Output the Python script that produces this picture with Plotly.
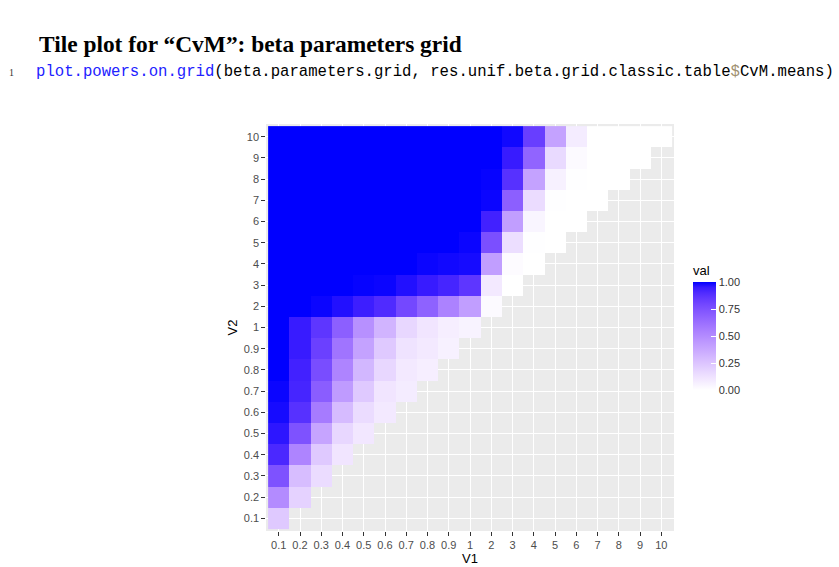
import plotly.graph_objects as go

# ---------------- data ----------------
categories = ["0.1", "0.2", "0.3", "0.4", "0.5", "0.6", "0.7", "0.8", "0.9", "1",
              "2", "3", "4", "5", "6", "7", "8", "9", "10"]

# power values, one list per V2 row (V1 from 0.1 up to V2)
v2_0_1 = [0.23]
v2_0_2 = [0.50, 0.19]
v2_0_3 = [0.75, 0.28, 0.15]
v2_0_4 = [0.91, 0.53, 0.23, 0.11]
v2_0_5 = [0.96, 0.75, 0.39, 0.17, 0.10]
v2_0_6 = [0.98, 0.88, 0.57, 0.29, 0.15, 0.09]
v2_0_7 = [0.99, 0.92, 0.70, 0.43, 0.23, 0.11, 0.08]
v2_0_8 = [1.00, 0.93, 0.77, 0.53, 0.31, 0.17, 0.09, 0.07]
v2_0_9 = [1.00, 0.95, 0.82, 0.60, 0.40, 0.23, 0.12, 0.09, 0.06]
v2_1 = [1.00, 0.95, 0.86, 0.69, 0.48, 0.32, 0.17, 0.11, 0.07, 0.05]
v2_2 = [1.00, 1.00, 0.99, 0.97, 0.94, 0.90, 0.79, 0.68, 0.54, 0.42, 0.02]
v2_3 = [1.00, 1.00, 1.00, 1.00, 0.995, 0.99, 0.97, 0.95, 0.92, 0.86, 0.09, 0.00]
v2_4 = [1.00, 1.00, 1.00, 1.00, 1.00, 1.00, 1.00, 0.99, 0.985, 0.98, 0.42, 0.015, 0.00]
v2_5 = [1.00, 1.00, 1.00, 1.00, 1.00, 1.00, 1.00, 1.00, 1.00, 0.99, 0.76, 0.14, 0.005, 0.00]
v2_6 = [1.00, 1.00, 1.00, 1.00, 1.00, 1.00, 1.00, 1.00, 1.00, 1.00, 0.93, 0.42, 0.04, 0.00, 0.00]
v2_7 = [1.00, 1.00, 1.00, 1.00, 1.00, 1.00, 1.00, 1.00, 1.00, 1.00, 0.99, 0.69, 0.15, 0.005, 0.00, 0.00]
v2_8 = [1.00, 1.00, 1.00, 1.00, 1.00, 1.00, 1.00, 1.00, 1.00, 1.00, 0.995, 0.88, 0.40, 0.06, 0.005, 0.00, 0.00]
v2_9 = [1.00, 1.00, 1.00, 1.00, 1.00, 1.00, 1.00, 1.00, 1.00, 1.00, 1.00, 0.95, 0.67, 0.16, 0.02, 0.00, 0.00, 0.00]
v2_10 = [1.00, 1.00, 1.00, 1.00, 1.00, 1.00, 1.00, 1.00, 1.00, 1.00, 1.00, 0.985, 0.83, 0.40, 0.08, 0.00, 0.00, 0.00, 0.00]

rows = [v2_0_1, v2_0_2, v2_0_3, v2_0_4, v2_0_5, v2_0_6, v2_0_7, v2_0_8, v2_0_9, v2_1,
        v2_2, v2_3, v2_4, v2_5, v2_6, v2_7, v2_8, v2_9, v2_10]

colorbar_ticks = [0, 0.25, 0.5, 0.75, 1.0]
colorbar_labels = ["0.00", "0.25", "0.50", "0.75", "1.00"]

# ---------------- colour scale (Lab interpolation white -> blue, like ggplot) ----------------
def srgb_to_lab(rgb):
    def lin(c):
        c = c / 255.0
        return c / 12.92 if c <= 0.04045 else ((c + 0.055) / 1.055) ** 2.4
    r, g, b = (lin(c) for c in rgb)
    X = 0.4124 * r + 0.3576 * g + 0.1805 * b
    Y = 0.2126 * r + 0.7152 * g + 0.0722 * b
    Z = 0.0193 * r + 0.1192 * g + 0.9505 * b
    Xn, Yn, Zn = 0.95047, 1.0, 1.08883
    def f(t):
        return t ** (1 / 3) if t > 0.008856 else 7.787 * t + 16 / 116
    fx, fy, fz = f(X / Xn), f(Y / Yn), f(Z / Zn)
    return (116 * fy - 16, 500 * (fx - fy), 200 * (fy - fz))


def lab_to_srgb(lab):
    L, a, b = lab
    fy = (L + 16) / 116
    fx = fy + a / 500
    fz = fy - b / 200
    def finv(t):
        return t ** 3 if t ** 3 > 0.008856 else (t - 16 / 116) / 7.787
    X, Y, Z = 0.95047 * finv(fx), finv(fy), 1.08883 * finv(fz)
    r = 3.2406 * X - 1.5372 * Y - 0.4986 * Z
    g = -0.9689 * X + 1.8758 * Y + 0.0415 * Z
    bb = 0.0557 * X - 0.2040 * Y + 1.0570 * Z
    def gam(c):
        c = min(max(c, 0.0), 1.0)
        return 12.92 * c if c <= 0.0031308 else 1.055 * c ** (1 / 2.4) - 0.055
    return tuple(int(round(255 * gam(c))) for c in (r, g, bb))


lab_lo = srgb_to_lab((255, 255, 255))
lab_hi = srgb_to_lab((0, 0, 255))
colorscale = []
n_stops = 21
for i in range(n_stops):
    t = i / (n_stops - 1)
    lab = tuple(lo + (hi - lo) * t for lo, hi in zip(lab_lo, lab_hi))
    r, g, b = lab_to_srgb(lab)
    colorscale.append([t, f"rgb({r},{g},{b})"])

# ---------------- build matrix ----------------
z = []
for row in rows:
    z.append(list(row) + [None] * (len(categories) - len(row)))

# ---------------- geometry (pixels) ----------------
FIG_W, FIG_H = 839, 567
L, R, T, B = 265.6, 674.0, 124.0, 531.0
PW, PH = R - L, B - T


def px(x):
    return (x - L) / PW


def py(y):
    return (B - y) / PH


fig = go.Figure()
fig.add_trace(go.Heatmap(
    x=categories, y=categories, z=z,
    zmin=0, zmax=1,
    colorscale=colorscale,
    hoverongaps=False,
    colorbar=dict(
        title=dict(text="val", side="top", font=dict(family="Liberation Sans, Arial", size=13, color="#000000")),
        tickvals=colorbar_ticks, ticktext=colorbar_labels,
        tickfont=dict(family="Liberation Sans, Arial", size=11, color="#333333"),
        ticks="inside", ticklen=5, tickcolor="white", tickwidth=1,
        thickness=23, thicknessmode="pixels",
        len=128, lenmode="pixels",
        x=px(693), xanchor="left",
        y=py(262), yanchor="top",
        outlinewidth=0,
        xpad=0, ypad=0,
    ),
))

axis_common = dict(
    type="category",
    categoryorder="array",
    categoryarray=categories,
    range=[-0.6, 18.6],
    showgrid=True, gridcolor="white", gridwidth=1.07,
    zeroline=False,
    ticks="outside", ticklen=3.7, tickwidth=1.07, tickcolor="#333333",
    tickfont=dict(family="Liberation Sans, Arial", size=11, color="#4D4D4D"),
    showline=False,
    fixedrange=True,
)

fig.update_layout(
    width=FIG_W, height=FIG_H,
    margin=dict(l=L, r=FIG_W - R, t=T, b=FIG_H - B, autoexpand=False),
    paper_bgcolor="white",
    plot_bgcolor="#EBEBEB",
    xaxis=dict(axis_common, title=dict(text="V1", standoff=1,
                                       font=dict(family="Liberation Sans, Arial", size=13, color="#000000"))),
    yaxis=dict(axis_common, title=dict(text="V2", standoff=3,
                                       font=dict(family="Liberation Sans, Arial", size=13, color="#000000"))),
    annotations=[
        dict(text="<b>Tile plot for “CvM”: beta parameters grid</b>",
             x=px(36), y=py(44), xref="paper", yref="paper",
             xanchor="left", yanchor="middle", showarrow=False,
             font=dict(family="Liberation Serif, Times New Roman, serif", size=23.4, color="#000000")),
        dict(text="1",
             x=px(10.5), y=py(73), xref="paper", yref="paper",
             xanchor="center", yanchor="middle", showarrow=False,
             font=dict(family="Liberation Serif, serif", size=10, color="#333333")),
        dict(text='<span style="color:#2222ff">plot.powers.on.grid</span>(beta.parameters.grid, '
                  'res.unif.beta.grid.classic.table<span style="color:#a09070">$</span>CvM.means)',
             x=px(33.5), y=py(72), xref="paper", yref="paper",
             xanchor="left", yanchor="middle", showarrow=False,
             font=dict(family="Liberation Mono, Courier New, monospace", size=15.65, color="#000000")),
    ],
)

fig.write_html("out.html")
